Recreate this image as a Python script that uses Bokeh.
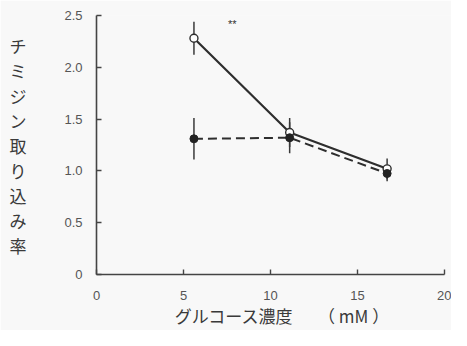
from bokeh.plotting import figure
from bokeh.models import Range1d, FixedTicker, Label, ColumnDataSource
from bokeh.embed import file_html
from bokeh.resources import INLINE

# data (glucose concentration mM, thymidine uptake ratio)
glucose = [5.6, 11.1, 16.7]
open_vals = [2.28, 1.37, 1.02]
open_err = [0.16, 0.14, 0.10]
filled_vals = [1.31, 1.32, 0.975]
filled_err = [0.20, 0.15, 0.075]

x_ticks = [0, 5, 10, 15, 20]
y_ticks = [0, 0.5, 1.0, 1.5, 2.0, 2.5]
y_tick_labels = ["0", "0.5", "1.0", "1.5", "2.0", "2.5"]

y_title = "チミジン取り込み率"
x_title = "　グルコース濃度　　（ mM ）"
signif_text = "**"
signif_x = 7.8
signif_y = 2.42

JP = "Noto Sans CJK JP"
NUM = "Liberation Sans"
INK = "#2e2e2e"
BG = "#f8f8f8"

p = figure(width=451, height=330, output_backend="svg", toolbar_location=None,
           x_range=Range1d(0, 20.4), y_range=Range1d(0, 2.5),
           min_border_left=96, min_border_right=0, min_border_top=15, min_border_bottom=56)
p.background_fill_color = BG
p.border_fill_color = BG
p.outline_line_color = None
p.xgrid.visible = False
p.ygrid.visible = False

for ax in (p.xaxis[0], p.yaxis[0]):
    ax.axis_line_color = "#444444"
    ax.axis_line_width = 1.6
    ax.major_tick_line_color = "#444444"
    ax.major_tick_line_width = 1.4
    ax.major_tick_in = 5
    ax.major_tick_out = 0
    ax.minor_tick_line_color = None
    ax.major_label_text_font = NUM
    ax.major_label_text_font_size = "13px"
    ax.major_label_text_color = "#555555"
    ax.axis_label_text_font = JP
    ax.axis_label_text_font_size = "17px"
    ax.axis_label_text_font_style = "normal"
    ax.axis_label_text_color = "#3a3a3a"

p.xaxis.ticker = FixedTicker(ticks=x_ticks)
p.xaxis.bounds = (0, 20)
p.xaxis.major_label_standoff = 16
p.xaxis.axis_label = x_title
p.xaxis.axis_label_standoff = 0

p.yaxis.ticker = FixedTicker(ticks=y_ticks)
p.yaxis.major_label_overrides = {t: s for t, s in zip(y_ticks, y_tick_labels)}
p.yaxis.major_label_standoff = 14
p.yaxis.axis_label = "\n".join(y_title)
p.yaxis.axis_label_orientation = "horizontal"
p.yaxis.axis_label_text_line_height = 1.0
p.yaxis.axis_label_standoff = 35

src = ColumnDataSource(dict(
    x=glucose,
    o=open_vals,
    o_lo=[v - e for v, e in zip(open_vals, open_err)],
    o_hi=[v + e for v, e in zip(open_vals, open_err)],
    f=filled_vals,
    f_lo=[v - e for v, e in zip(filled_vals, filled_err)],
    f_hi=[v + e for v, e in zip(filled_vals, filled_err)],
))

p.segment(x0="x", y0="o_lo", x1="x", y1="o_hi", source=src, line_color="#3a3a3a", line_width=1.5)
p.segment(x0="x", y0="f_lo", x1="x", y1="f_hi", source=src, line_color="#3a3a3a", line_width=1.5)

p.line("x", "f", source=src, line_color=INK, line_width=2, line_dash="9 5")
p.line("x", "o", source=src, line_color=INK, line_width=2.2)

p.scatter("x", "o", source=src, marker="circle", size=8, fill_color="white",
          line_color=INK, line_width=1.4)
p.scatter("x", "f", source=src, marker="circle", size=8, fill_color="#222222",
          line_color="#222222", line_width=1)

p.add_layout(Label(x=signif_x, y=signif_y, text=signif_text, text_font=NUM,
                   text_font_size="11px", text_color="#333333",
                   text_align="center", text_baseline="middle"))

open("out.html", "w").write(file_html(p, INLINE))
